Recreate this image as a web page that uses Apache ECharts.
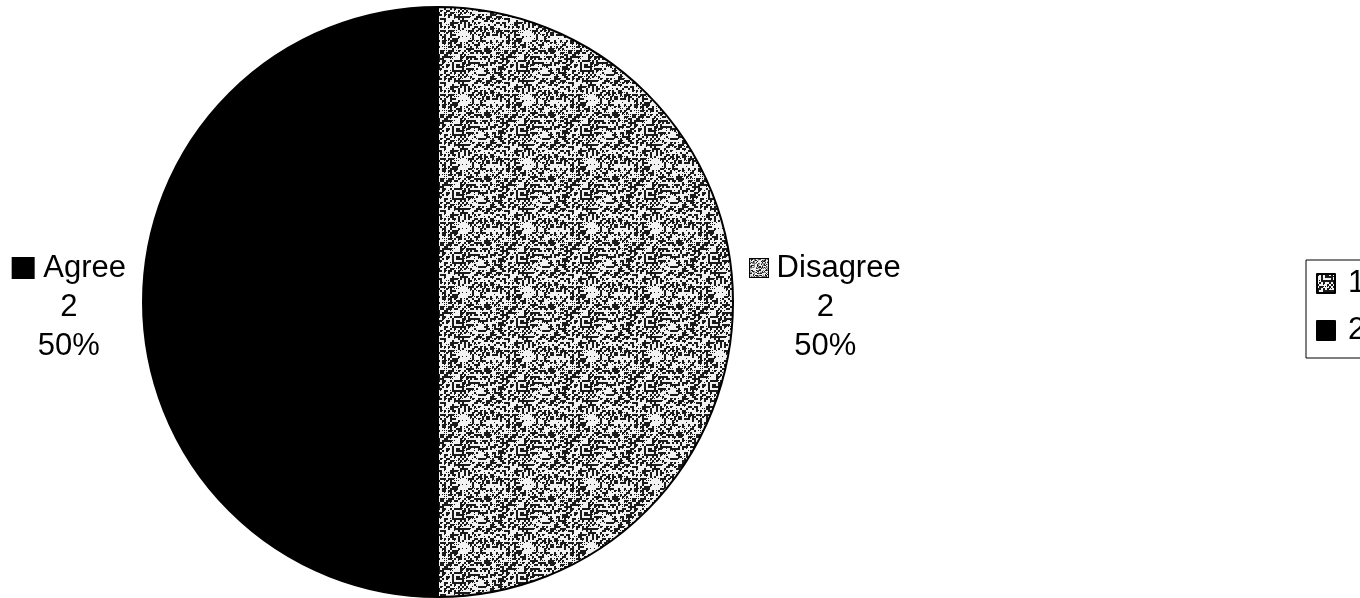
<!DOCTYPE html>
<html>
<head>
<meta charset="utf-8">
<script src="https://cdn.jsdelivr.net/npm/echarts@6/dist/echarts.min.js"></script>
<style>
  html, body { margin: 0; padding: 0; background: #fff; }
  #chart { width: 1360px; height: 598px; }
</style>
</head>
<body>
<div id="chart"></div>
<script>
// data
var legendNames = ['1', '2'];
var labelNames = ['Disagree', 'Agree'];
var counts = [2, 2];

// speckled grey fill used for the "Disagree" slice
function makeTexture() {
    var size = 64;
    var c = document.createElement('canvas');
    c.width = size;
    c.height = size;
    var ctx = c.getContext('2d');
    ctx.fillStyle = '#f2f2f2';
    ctx.fillRect(0, 0, size, size);
    ctx.fillStyle = '#1a1a1a';
    for (var y = 0; y < size; y += 2) {
        for (var x = 0; x < size; x += 2) {
            var h = Math.imul(x + 1, 374761393) ^ Math.imul(y + 7, 668265263);
            h = Math.imul(h ^ (h >>> 13), 1274126177);
            h = (h ^ (h >>> 16)) >>> 0;
            if ((h & 255) < 100) {
                ctx.fillRect(x, y, 2, 2);
            } else if ((h & 255) < 140) {
                ctx.fillRect(x, y, 1, 1);
            }
        }
    }
    return c;
}

var texture = makeTexture();
var fills = [{ image: texture, repeat: 'repeat' }, '#000'];

var seriesData = [];
for (var i = 0; i < counts.length; i++) {
    seriesData.push({
        value: counts[i],
        name: legendNames[i],
        itemStyle: { color: fills[i] }
    });
}

var myChart = echarts.init(document.getElementById('chart'));
var option = {
    backgroundColor: '#fff',
    animation: false,
    textStyle: { fontFamily: 'Liberation Sans, Arial, sans-serif', color: '#000' },
    legend: {
        orient: 'vertical',
        left: 1306,
        top: 260,
        padding: [8, 40, 12, 10],
        itemWidth: 18,
        itemHeight: 19,
        itemGap: 16,
        borderColor: '#000',
        borderWidth: 1,
        icon: 'rect',
        data: legendNames,
        textStyle: { fontSize: 31, color: '#000', padding: [0, 0, 0, 8] }
    },
    series: [{
        name: 'chart',
        type: 'pie',
        center: [438, 302],
        radius: [0, 295],
        startAngle: 90,
        clockwise: true,
        data: seriesData,
        itemStyle: { borderColor: '#000', borderWidth: 2 },
        emphasis: { disabled: true },
        labelLine: { show: false, length: 8, length2: 4 },
        label: {
            position: 'outside',
            padding: [10, 0, 0, 0],
            formatter: function (p) {
                var i = p.dataIndex;
                return '{ic' + i + '|}{t| ' + labelNames[i] + '}\n{t|' + p.value + '}\n{t|' + Math.round(p.percent) + '%}';
            },
            rich: {
                t: { fontSize: 31, lineHeight: 39, color: '#000', align: 'center' },
                ic0: {
                    width: 18, height: 18, align: 'center',
                    backgroundColor: { image: texture },
                    borderColor: '#000', borderWidth: 2
                },
                ic1: { width: 23, height: 22, align: 'center', backgroundColor: '#000' }
            }
        }
    }]
};
myChart.setOption(option, true);
</script>
</body>
</html>
